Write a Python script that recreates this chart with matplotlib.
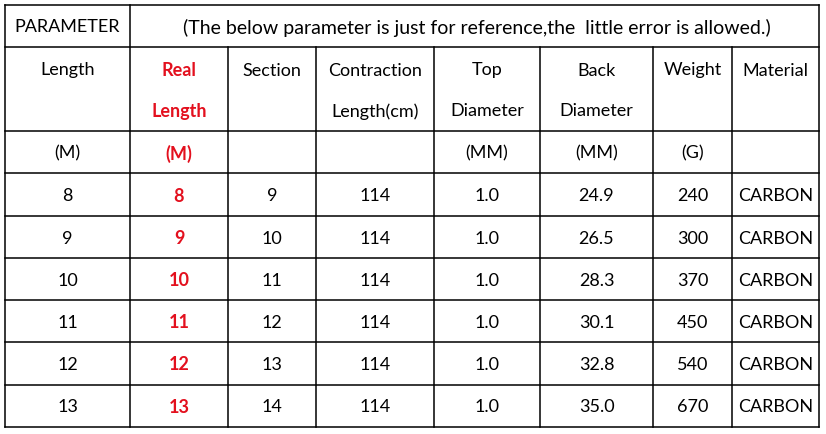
import matplotlib
matplotlib.use("Agg")
from matplotlib import pyplot as plt

# table content
title_left = "PARAMETER"
title_note = "(The below parameter is just for reference,the  little error is allowed.)"
header_top = ["Length", "Real", "Section", "Contraction", "Top", "Back", "Weight", "Material"]
header_mid = ["", "Length", "", "Length(cm)", "Diameter", "Diameter", "", ""]
units = ["(M)", "(M)", "", "", "(MM)", "(MM)", "(G)", ""]
length = ["8", "9", "10", "11", "12", "13"]
real_length = ["8", "9", "10", "11", "12", "13"]
section = ["9", "10", "11", "12", "13", "14"]
contraction = ["114"] * 6
top_diameter = ["1.0"] * 6
back_diameter = ["24.9", "26.5", "28.3", "30.1", "32.8", "35.0"]
weight = ["240", "300", "370", "450", "540", "670"]
material = ["CARBON"] * 6

# layout (pixels)
col_edges = [5, 130, 228, 316, 434, 540, 653, 732, 819]
row_edges = [5, 47, 131, 173, 216, 258, 300, 342, 385, 427]
RED = "#e3101e"
FONT = "Lato"
FS = 13
DY = 1.5

fig = plt.figure(figsize=(8.26, 4.34), dpi=100)
ax = fig.add_axes([0, 0, 1, 1])
ax.set_xlim(0, 826)
ax.set_ylim(434, 0)
ax.axis("off")

lw = 1.1
# horizontal lines
for y in row_edges:
    ax.plot([col_edges[0], col_edges[-1]], [y, y], color="black", lw=lw, solid_capstyle="projecting")
# vertical lines
for i, x in enumerate(col_edges):
    top = row_edges[0] if i in (0, 1, len(col_edges) - 1) else row_edges[1]
    ax.plot([x, x], [top, row_edges[-1]], color="black", lw=lw, solid_capstyle="projecting")

def cx(i):
    return (col_edges[i] + col_edges[i + 1]) / 2

def cy(j):
    return (row_edges[j] + row_edges[j + 1]) / 2

def put(x, y, s, red=False, size=FS):
    ax.text(x, y + DY, s, ha="center", va="center", fontsize=size, family=FONT,
            color=RED if red else "black", fontweight="bold" if red else "normal")

# title row
put(cx(0), cy(0), title_left)
put((col_edges[1] + col_edges[-1]) / 2 + 2, cy(0), title_note, size=14)

# header rows
for i in range(8):
    put(cx(i), 69, header_top[i], red=(i == 1))
    put(cx(i), 110, header_mid[i], red=(i == 1))
    put(cx(i), cy(2), units[i], red=(i == 1))

cols = [length, real_length, section, contraction, top_diameter, back_diameter, weight, material]
for i, col in enumerate(cols):
    for r, v in enumerate(col):
        put(cx(i), cy(r + 3), v, red=(i == 1))

fig.savefig("out.png", dpi=100, facecolor="white")
